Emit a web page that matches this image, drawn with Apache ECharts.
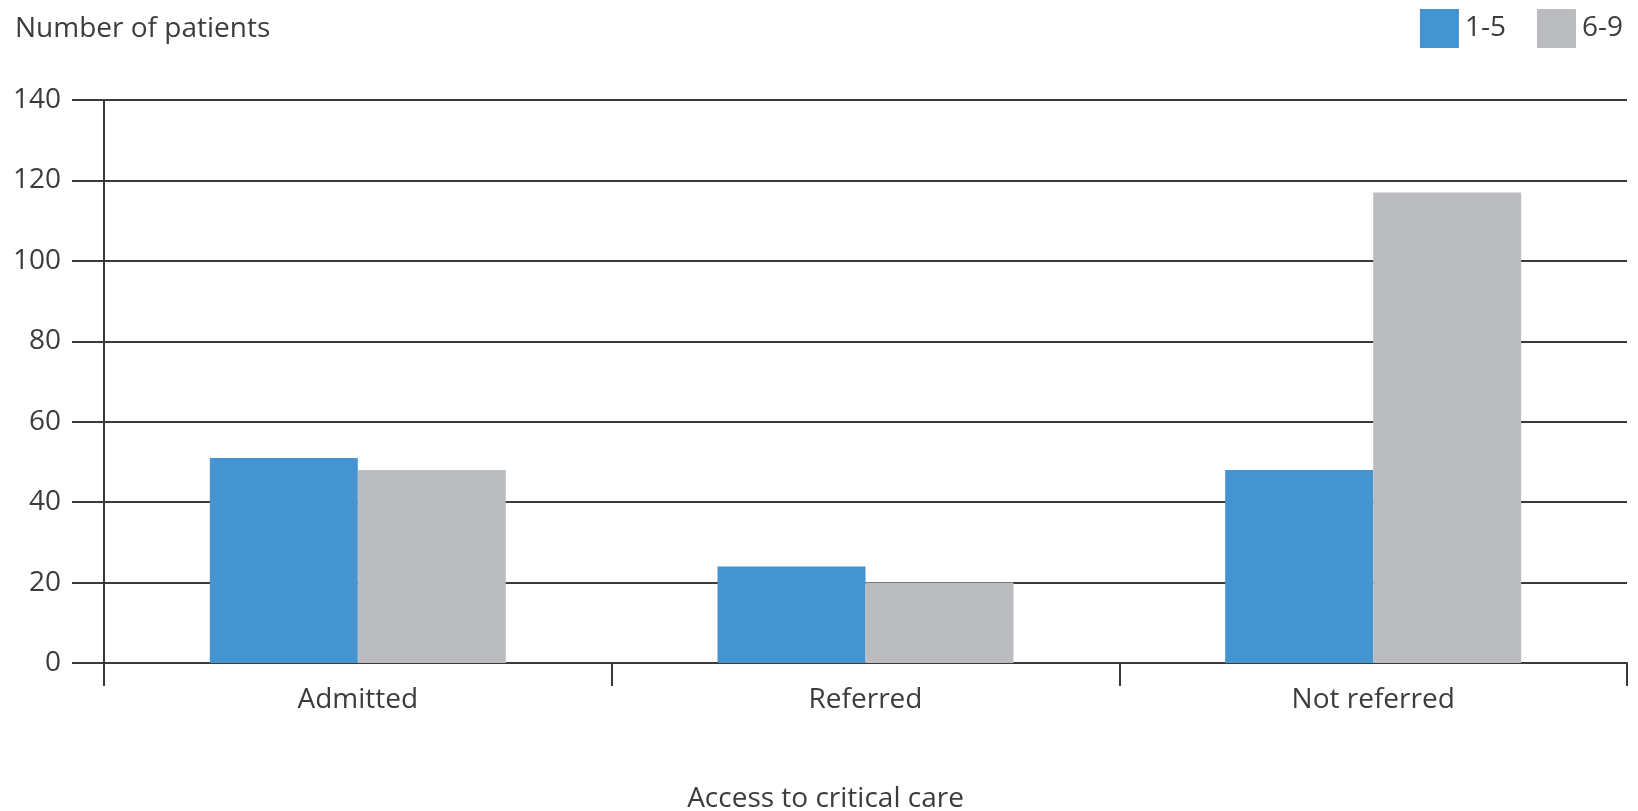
<!DOCTYPE html>
<html>
<head>
<meta charset="utf-8">
<title>Access to critical care</title>
<script src="https://cdn.jsdelivr.net/npm/echarts@6/dist/echarts.min.js"></script>
<style>
  html, body { margin: 0; padding: 0; background: #ffffff; }
  #chart { width: 1638px; height: 811px; }
</style>
</head>
<body>
<div id="chart"></div>
<script>
// Patients by access to critical care, split by score group
const categories = ['Admitted', 'Referred', 'Not referred'];
const seriesNames = ['1-5', '6-9'];
const values15 = [51, 24, 48];
const values69 = [48, 20, 117];
const yTicks = { min: 0, max: 140, interval: 20 };

const textColor = '#3c3c3c';
const lineColor = '#3a3a3a';
const fontFamily = '"Open Sans", "Noto Sans", sans-serif';
const fontSize = 28;

const chart = echarts.init(document.getElementById('chart'), null, { renderer: 'canvas' });

chart.setOption({
  animation: false,
  backgroundColor: '#ffffff',
  textStyle: { fontFamily: fontFamily, color: textColor },
  title: {
    text: 'Number of patients',
    left: 10,
    top: 10,
    textStyle: { fontFamily: fontFamily, fontSize: fontSize, fontWeight: 'normal', color: textColor }
  },
  legend: {
    data: seriesNames,
    right: 10,
    top: 4,
    itemWidth: 39,
    itemHeight: 39,
    itemGap: 31,
    icon: 'rect',
    textStyle: { fontFamily: fontFamily, fontSize: fontSize, color: textColor, padding: [0, 0, 0, 1] }
  },
  grid: { left: 104, right: 11, top: 100, bottom: 148, containLabel: false, outerBoundsMode: 'none' },
  xAxis: {
    type: 'category',
    data: categories,
    boundaryGap: true,
    name: 'Access to critical care',
    nameLocation: 'middle',
    nameGap: 122,
    nameTextStyle: { fontFamily: fontFamily, fontSize: fontSize, color: textColor, padding: [0, 80, 0, 0] },
    axisLine: { show: true, lineStyle: { color: lineColor, width: 2 } },
    axisTick: { show: true, length: 23, alignWithLabel: false, lineStyle: { color: lineColor, width: 2 } },
    axisLabel: { margin: 23, fontFamily: fontFamily, fontSize: fontSize, color: textColor },
    splitLine: { show: false }
  },
  yAxis: {
    type: 'value',
    min: yTicks.min,
    max: yTicks.max,
    interval: yTicks.interval,
    axisLine: { show: true, lineStyle: { color: lineColor, width: 2 } },
    axisTick: { show: true, length: 32, lineStyle: { color: lineColor, width: 2 } },
    axisLabel: { margin: 43, fontFamily: fontFamily, fontSize: fontSize, color: textColor },
    splitLine: { show: true, lineStyle: { color: lineColor, width: 2 } }
  },
  series: [
    {
      name: seriesNames[0],
      type: 'bar',
      data: values15,
      barGap: '0%',
      barCategoryGap: '41.7%',
      itemStyle: { color: '#4394d0' },
      z: 3
    },
    {
      name: seriesNames[1],
      type: 'bar',
      data: values69,
      barGap: '0%',
      barCategoryGap: '41.7%',
      itemStyle: { color: '#bbbcbf' },
      z: 3
    }
  ]
});
</script>
</body>
</html>
